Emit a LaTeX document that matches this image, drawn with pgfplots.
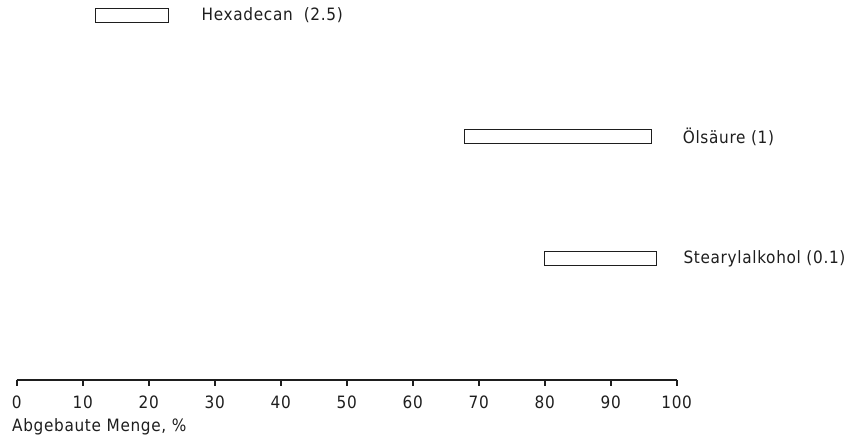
\documentclass[border=0pt]{standalone}
\usepackage{pgfplots}
\pgfplotsset{compat=1.18}
\usepackage{fontspec}
\setmainfont[LetterSpace=4]{DejaVu Sans Condensed}

\definecolor{ink}{RGB}{30,30,30}
\newcommand{\plotfont}{\fontsize{17pt}{20pt}\selectfont}

\pgfplotsset{
    rangeaxis/.style={
        scale only axis,
        width=660pt, height=388.8pt,
        xmin=0, xmax=100, ymin=0, ymax=3.2,
    },
}

\begin{document}
\plotfont
\begin{tikzpicture}
\begin{axis}[
    rangeaxis,
    axis x line*=bottom,
    hide y axis,
    xbar stacked,
    bar width=14pt,
    xtick={0,10,...,100},
    tick align=outside,
    major tick length=6pt,
    x axis line style={line width=2pt, draw=ink},
    every tick/.style={line width=2pt, draw=ink},
    /pgf/number format/assume math mode=true,
    xticklabel style={font=\plotfont, text=ink, inner sep=0pt, yshift=-10pt},
    xlabel={Abgebaute Menge, \%},
    x label style={at={(axis description cs:0,0)}, anchor=north west,
        inner sep=0pt, xshift=-4.7pt, yshift=-38pt, text=ink, font=\plotfont},
]
% invisible start of each range
\addplot[draw=none, fill=none] coordinates {(11.9,3) (67.9,2) (80.0,1)};
% visible range (length)
\addplot[draw=ink, fill=white, line width=1pt] coordinates {(11.1,3) (28.3,2) (16.9,1)};
\end{axis}
% labels, same scale as the bars
\begin{axis}[rangeaxis, hide axis, clip=false]
\addplot[only marks, mark=none,
    nodes near coords, point meta=explicit symbolic,
    nodes near coords style={anchor=west, inner sep=0pt, text=ink, font=\plotfont}]
    coordinates {(28.0,3)[Hexadecan\ \ (2.5)] (100.9,2)[Ölsäure (1)] (101.0,1)[Stearylalkohol (0.1)]};
\end{axis}
\pgfresetboundingbox
\path (-16.7pt,-59pt) rectangle (838.3pt,380pt);
\end{tikzpicture}
\end{document}
